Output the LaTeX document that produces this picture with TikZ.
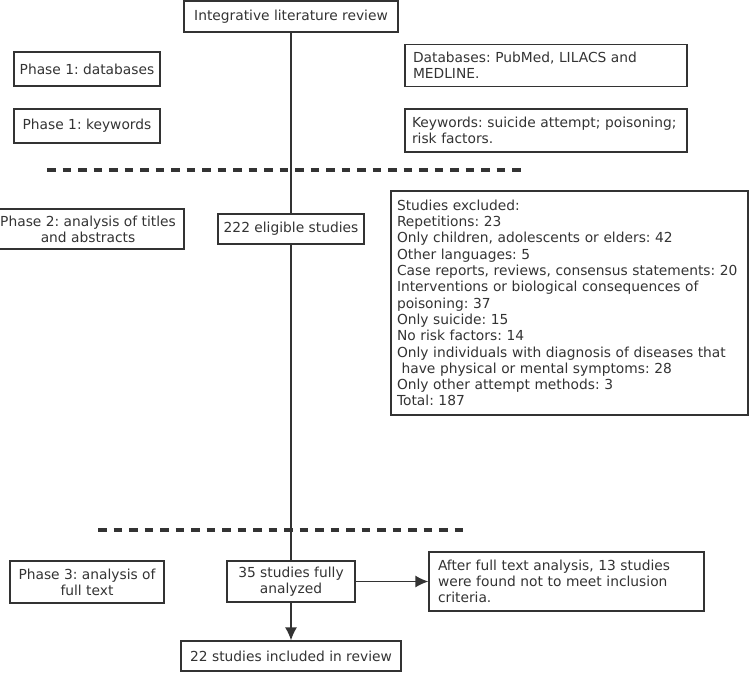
\documentclass[tikz,border=0pt]{standalone}
\usepackage{fontspec}
\setmainfont{DejaVu Sans}
\usetikzlibrary{arrows.meta}
\tikzset{>={Latex[length=13pt,width=12pt]}}
\definecolor{linegray}{HTML}{333333}
\tikzset{
  box/.style={draw=linegray, line width=1.3pt, text=linegray, inner sep=4pt,
    font=\fontsize{13.8}{16.3}\selectfont\frenchspacing, align=center},
  leftbox/.style={box, align=left, inner xsep=6pt},
  phasesep/.style={draw=linegray, line width=4.5pt, dash pattern=on 8.5pt off 7pt},
  flow/.style={draw=linegray, line width=1.4pt},
}

\begin{document}
\begin{tikzpicture}[x=1pt,y=-1pt]
  \useasboundingbox (0,0) rectangle (751,673);
  % phase separators
  \draw[phasesep] (47,170) -- (525,170);
  \draw[phasesep] (98,530) -- (466,530);
  % main column
  \node[box, minimum width=214pt, minimum height=31pt] (review) at (291,16.5) {Integrative literature review};
  \node[box, minimum width=146pt, minimum height=30pt, fill=white] (eligible) at (291,229) {222 eligible studies};
  \node[box, minimum width=128pt, minimum height=41pt] (full) at (291,581.5) {35 studies fully\\analyzed};
  \node[box, minimum width=220pt, minimum height=30pt] (included) at (291,656) {22 studies included in review};
  % phase labels
  \node[box, minimum width=146pt, minimum height=34pt] (phdb) at (87,69) {Phase 1: databases};
  \node[box, minimum width=146pt, minimum height=34pt] (phkw) at (87,126) {Phase 1: keywords};
  \node[box, minimum width=192pt, minimum height=40pt] (phtitles) at (88,229) {Phase 2: analysis of titles\\and abstracts};
  \node[box, minimum width=154pt, minimum height=42pt] (phfull) at (87,582) {Phase 3: analysis of\\full text};
  % details
  \node[leftbox, inner xsep=8pt, text width=266pt, minimum height=42pt] (databases) at (546,65.5) {Databases: PubMed, LILACS and\\MEDLINE.};
  \node[leftbox, inner xsep=7pt, text width=268pt, minimum height=43pt] (keywords) at (546,130.5) {Keywords: suicide attempt; poisoning;\\risk factors.};
  \node[leftbox, text width=345pt, minimum height=224pt] (excluded) at (569.5,303) {Studies excluded:\\
    Repetitions: 23\\
    Only children, adolescents or elders: 42\\
    Other languages: 5\\
    Case reports, reviews, consensus statements: 20\\
    Interventions or biological consequences of\\
    poisoning: 37\\
    Only suicide: 15\\
    No risk factors: 14\\
    Only individuals with diagnosis of diseases that\\
    \ have physical or mental symptoms: 28\\
    Only other attempt methods: 3\\
    Total: 187};
  \node[leftbox, inner xsep=9pt, text width=257pt, minimum height=59pt] (notmet) at (566.5,581.5) {After full text analysis, 13 studies\\were found not to meet inclusion\\criteria.};
  % connectors
  \draw[flow] (review) -- (eligible);
  \draw[flow] (eligible) -- (full);
  \draw[flow,->] (full) -- (included);
  \draw[flow,->] (full) -- (notmet);
\end{tikzpicture}
\end{document}
